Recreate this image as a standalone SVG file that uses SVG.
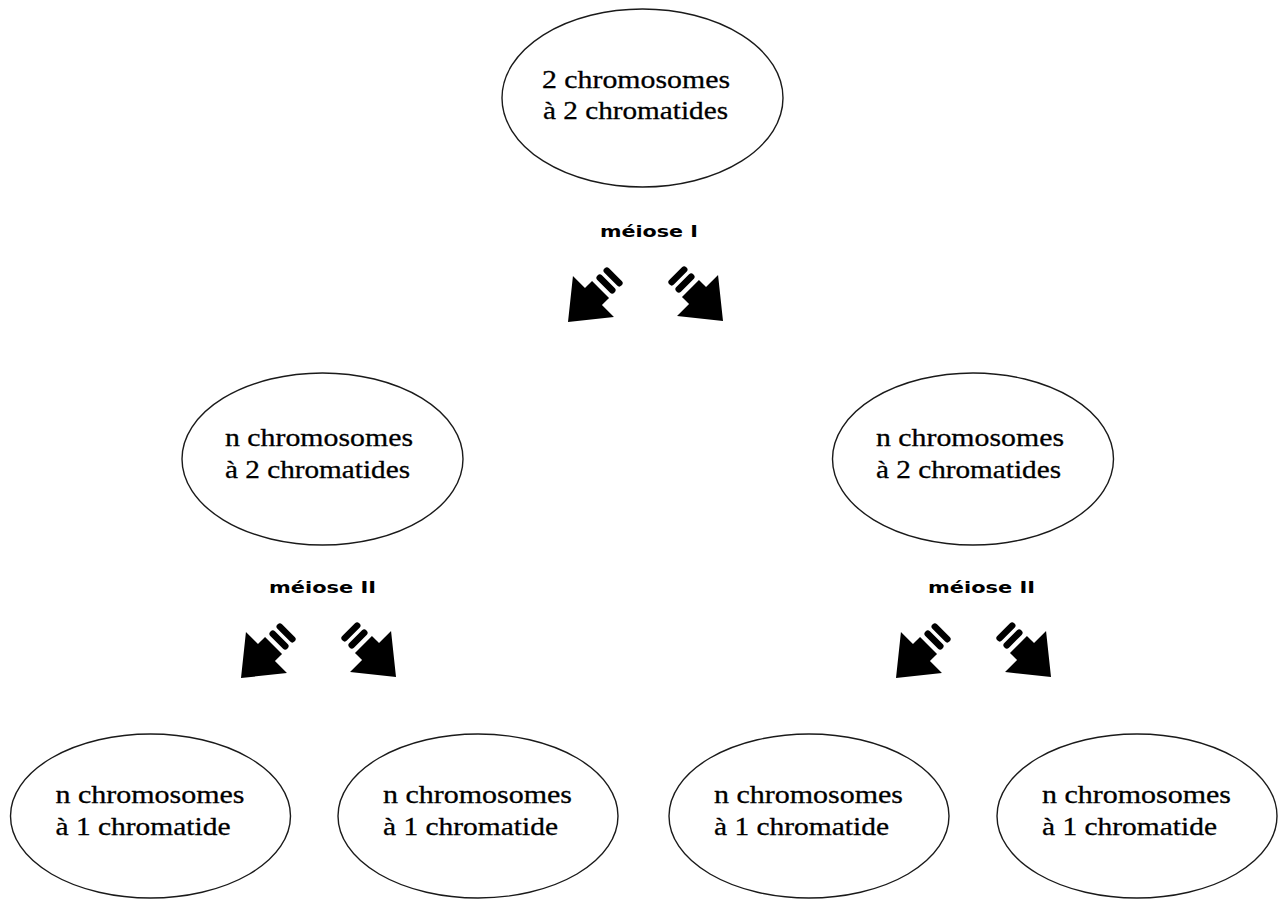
<svg xmlns="http://www.w3.org/2000/svg" width="1279" height="900" viewBox="0 0 1279 900">
<style>
.node ellipse{fill:#fff;stroke:#1a1a1a;stroke-width:1.4}
.node text{font-family:"Liberation Serif","Times New Roman",serif;font-size:26px;fill:#000;stroke:#000;stroke-width:0.3}
.lbl{font-family:"DejaVu Sans",Verdana,sans-serif;font-weight:bold;font-size:16px;fill:#000}
.arr{fill:#000}
</style>
<defs>
<g id="arrow">
<path d="M0,0 L-36,-29 L-36,-12 L-46,-12 L-46,12 L-36,12 L-36,29 Z"/>
<rect x="-57" y="-12" width="6.5" height="24" rx="3"/>
<rect x="-67" y="-12" width="6.5" height="24" rx="3"/>
</g>
</defs>
<rect width="1279" height="900" fill="#fff"/>
<g id="top"><g class="node">
<ellipse cx="642.5" cy="98" rx="140.5" ry="89"/>
<text x="542" y="88" textLength="188" lengthAdjust="spacingAndGlyphs">2 chromosomes</text>
<text x="543" y="119" textLength="185" lengthAdjust="spacingAndGlyphs">à 2 chromatides</text>
</g></g>
<g id="midLeft"><g class="node">
<ellipse cx="322.5" cy="459" rx="140.5" ry="86"/>
<text x="225" y="446" textLength="188" lengthAdjust="spacingAndGlyphs">n chromosomes</text>
<text x="225" y="478" textLength="185" lengthAdjust="spacingAndGlyphs">à 2 chromatides</text>
</g></g>
<g id="midRight"><g class="node">
<ellipse cx="973" cy="459" rx="140.5" ry="86"/>
<text x="876" y="446" textLength="188" lengthAdjust="spacingAndGlyphs">n chromosomes</text>
<text x="876" y="478" textLength="185" lengthAdjust="spacingAndGlyphs">à 2 chromatides</text>
</g></g>
<g id="bot1"><g class="node">
<ellipse cx="150.5" cy="816" rx="140" ry="82"/>
<text x="55.5" y="803" textLength="189" lengthAdjust="spacingAndGlyphs">n chromosomes</text>
<text x="55.5" y="835" textLength="175" lengthAdjust="spacingAndGlyphs">à 1 chromatide</text>
</g></g>
<g id="bot2"><g class="node">
<ellipse cx="478" cy="816" rx="140" ry="82"/>
<text x="383" y="803" textLength="189" lengthAdjust="spacingAndGlyphs">n chromosomes</text>
<text x="383" y="835" textLength="175" lengthAdjust="spacingAndGlyphs">à 1 chromatide</text>
</g></g>
<g id="bot3"><g class="node">
<ellipse cx="809" cy="816" rx="140" ry="82"/>
<text x="714" y="803" textLength="189" lengthAdjust="spacingAndGlyphs">n chromosomes</text>
<text x="714" y="835" textLength="175" lengthAdjust="spacingAndGlyphs">à 1 chromatide</text>
</g></g>
<g id="bot4"><g class="node">
<ellipse cx="1137" cy="816" rx="140" ry="82"/>
<text x="1042" y="803" textLength="189" lengthAdjust="spacingAndGlyphs">n chromosomes</text>
<text x="1042" y="835" textLength="175" lengthAdjust="spacingAndGlyphs">à 1 chromatide</text>
</g></g>
<g id="connectors">
<text class="lbl" x="600" y="237" textLength="98" lengthAdjust="spacingAndGlyphs">méiose I</text>
<use class="arr" href="#arrow" transform="translate(568,322) rotate(135)"/>
<use class="arr" href="#arrow" transform="translate(723,321) rotate(45)"/>
<text class="lbl" x="269" y="593" textLength="107" lengthAdjust="spacingAndGlyphs">méiose II</text>
<use class="arr" href="#arrow" transform="translate(241,678) rotate(135)"/>
<use class="arr" href="#arrow" transform="translate(396,677) rotate(45)"/>
<text class="lbl" x="928" y="593" textLength="107" lengthAdjust="spacingAndGlyphs">méiose II</text>
<use class="arr" href="#arrow" transform="translate(896,678) rotate(135)"/>
<use class="arr" href="#arrow" transform="translate(1051,677) rotate(45)"/>
</g>
</svg>
